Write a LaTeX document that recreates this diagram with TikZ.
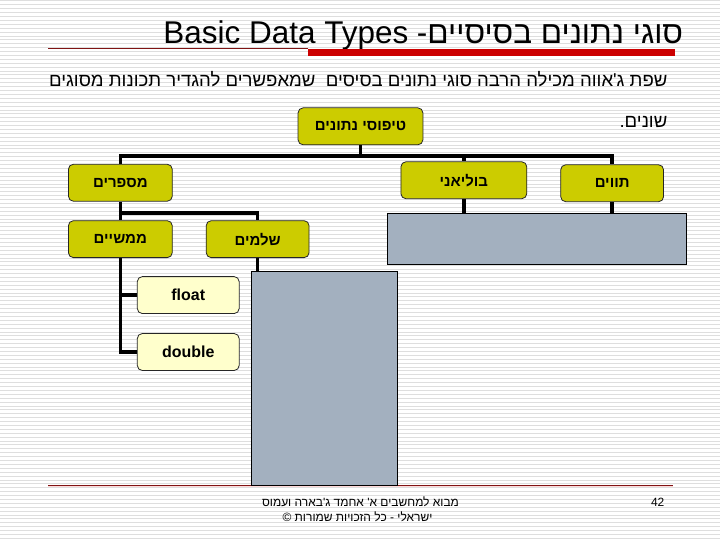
\documentclass[tikz,border=0pt]{standalone}
\usepackage{fontspec}
\setmainfont{Liberation Sans}
\newfontfamily\heb[Script=Hebrew]{Liberation Sans}
\TeXXeTstate=1
\definecolor{boxyellow}{RGB}{204,204,0}
\definecolor{lightyellow}{RGB}{255,255,204}
\definecolor{slate}{RGB}{163,176,191}
\definecolor{stripe}{RGB}{222,222,222}
\definecolor{titlered}{RGB}{204,0,0}
\definecolor{darkred}{RGB}{128,20,20}
\pgfdeclarelayer{bglayer}
\pgfdeclarelayer{connlayer}
\pgfsetlayers{bglayer,connlayer,main}
\begin{document}
\begin{tikzpicture}[x=1pt,y=-1pt,
  tbox/.style={draw=black!85, line width=0.8pt, rounded corners=5pt, fill=boxyellow,
    minimum width=#1, minimum height=37pt, inner sep=0pt,
    font=\heb\bfseries\fontsize{15}{15}\selectfont},
  tbox/.default=104pt,
  lbox/.style={tbox=102pt, fill=lightyellow, font=\bfseries\fontsize{16}{16}\selectfont},
  grayrect/.style={draw=black, line width=0.8pt, fill=slate, inner sep=0pt},
  conn/.style={line width=3.6pt, black, line join=miter},
  hebtext/.style={inner sep=0pt, font=\heb\fontsize{18.6}{18.6}\selectfont},
  foottext/.style={inner sep=0pt, font=\heb\fontsize{12}{12}\selectfont}
]
% background
\begin{pgfonlayer}{bglayer}
\fill[white] (0,0) rectangle (720,540);
\foreach \yy in {1,4.9,...,540} \draw[stripe, line width=1pt] (0,\yy) -- (720,\yy);
\end{pgfonlayer}
\useasboundingbox (0,0) rectangle (720,540);

% title
\node[anchor=base west, inner sep=0pt, font=\fontsize{31.5}{31.5}\selectfont] (title) at (163,43.5)
  {Basic Data Types {\heb\beginR סוגי נתונים בסיסיים-\endR}};
\draw[darkred, line width=1pt] (48,48.2) -- (308,48.2);
\fill[titlered] (308,48.7) rectangle (675,56);

% body text
\node[hebtext, anchor=base east] (body1) at (668,87) {\beginR שפת ג'אווה מכילה הרבה סוגי נתונים בסיסים\ \ שמאפשרים להגדיר תכונות מסוגים\endR};
\node[hebtext, anchor=base east] (body2) at (668,128) {\beginR שונים.\endR};

% nodes
\node[tbox=125pt] (root) at (360.5,126.5) {\beginR טיפוסי נתונים\endR};
\node[tbox] (num) at (120,183) {\beginR מספרים\endR};
\node[tbox=126pt] (bool) at (464,180.5) {\beginR בוליאני\endR};
\node[tbox=103pt] (tav) at (612.5,183.5) {\beginR תווים\endR};
\node[tbox] (real) at (120,239.5) {\beginR ממשיים\endR};
\node[tbox=103pt] (int) at (257.5,239.5) {\beginR שלמים\endR};
\node[lbox] (flt) at (188,295.5) {float};
\node[lbox] (dbl) at (188,352.5) {double};

% rectangles covering hidden parts
\node[grayrect, minimum width=300pt, minimum height=51pt] (grayA) at (537,239.5) {};
\node[grayrect, minimum width=146pt, minimum height=214pt] (grayB) at (324,379) {};

% connectors
\coordinate (bus) at (0,156);
\coordinate (bus2) at (0,213);
\begin{pgfonlayer}{connlayer}
\draw[conn] (root.south) -- (root.south |- bus);
\draw[conn] (num.north) -- (num.north |- bus) -- (tav.north |- bus) -- (tav.north);
\draw[conn] (bool.north |- bus) -- (bool.north);
\draw[conn] (bool.south) -- (bool.south |- grayA.north);
\draw[conn] (tav.south) -- (tav.south |- grayA.north);
\draw[conn] (num.south) -- (real.north);
\draw[conn] (num.south |- bus2) -| (int.north);
\draw[conn] (real.south) |- (dbl.west);
\draw[conn] (real.south |- flt.west) -- (flt.west);
\draw[conn] (int.south) -- (int.south |- grayB.north);
\draw[darkred, line width=1pt] (48,486) -- (673,486);
\draw[red!15, line width=1pt] (48,487.5) -- (673,487.5);
\end{pgfonlayer}

% footer
\node[foottext, anchor=base] (foot1) at (360.5,507) {\beginR מבוא למחשבים א' אחמד ג'בארה ועמוס\endR};
\node[foottext, anchor=base] (foot2) at (357.5,522) {\beginR ישראלי - כל הזכויות שמורות ©\endR};
\node[inner sep=0pt, anchor=base east, font=\fontsize{12}{12}\selectfont] (page) at (665,507) {42};
\end{tikzpicture}
\end{document}
